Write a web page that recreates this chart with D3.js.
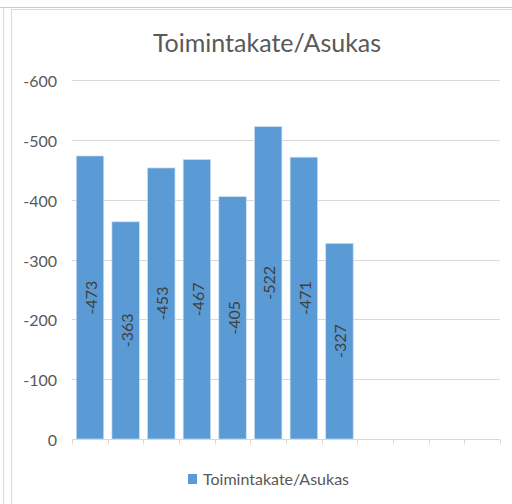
<!DOCTYPE html>
<html lang="fi">
<head>
<meta charset="UTF-8">
<script src="https://d3js.org/d3.v7.min.js"></script>
<title>Toimintakate/Asukas</title>
<style>
    body { margin: 0; background: #fff; }
    svg { display: block; font-family: Lato, "Open Sans", sans-serif; }
    .grid line { stroke: #d9d9d9; stroke-width: 1px; }
    .yaxis text { fill: #595959; font-size: 16px; }
    .label { fill: #404040; font-size: 16px; }
</style>
</head>
<body>
<script>
    // 12 category slots, only the first 8 have values
    const categories = ["1", "2", "3", "4", "5", "6", "7", "8", "9", "10", "11", "12"];
    const values = [-473, -363, -453, -467, -405, -522, -471, -327, null, null, null, null];
    const yTicks = [0, -100, -200, -300, -400, -500, -600];
    const seriesName = "Toimintakate/Asukas";

    const width = 512, height = 504;
    const plot = { left: 72, right: 500, top: 80, bottom: 439 };

    const svg = d3.select("body").append("svg")
        .attr("width", width)
        .attr("height", height);

    // chart frame
    svg.append("line").attr("x1", 0).attr("x2", width).attr("y1", 7.5).attr("y2", 7.5)
        .attr("stroke", "#c8c8c8");
    svg.append("line").attr("x1", 11.5).attr("x2", width).attr("y1", 9.5).attr("y2", 9.5)
        .attr("stroke", "#d9d9d9");
    svg.append("line").attr("x1", 3.5).attr("x2", 3.5).attr("y1", 7).attr("y2", height)
        .attr("stroke", "#d9d9d9");
    svg.append("line").attr("x1", 11.5).attr("x2", 11.5).attr("y1", 9).attr("y2", height)
        .attr("stroke", "#d9d9d9");

    const x = d3.scaleBand()
        .domain(categories)
        .range([plot.left, plot.right])
        .paddingInner(0.23)
        .paddingOuter(0.12);

    const y = d3.scaleLinear()
        .domain([0, -600])
        .range([plot.bottom, plot.top]);

    // gridlines
    svg.append("g").attr("class", "grid")
        .selectAll("line")
        .data(yTicks.filter(d => d !== 0))
        .enter().append("line")
        .attr("x1", plot.left).attr("x2", plot.right)
        .attr("y1", d => Math.round(y(d)) + 0.5)
        .attr("y2", d => Math.round(y(d)) + 0.5);

    // y labels
    svg.append("g").attr("class", "yaxis")
        .selectAll("text")
        .data(yTicks)
        .enter().append("text")
        .attr("x", 57)
        .attr("y", d => y(d) + 7)
        .attr("text-anchor", "end")
        .text(d => d);

    // bars
    const data = categories.map((c, i) => ({ c: c, v: values[i] })).filter(d => d.v !== null);

    svg.append("g")
        .selectAll("rect")
        .data(data)
        .enter().append("rect")
        .attr("x", d => x(d.c))
        .attr("y", d => y(d.v))
        .attr("width", x.bandwidth())
        .attr("height", d => y(0) - y(d.v))
        .attr("fill", "#5b9bd5")
        .attr("stroke", "#c9ddf0")
        .attr("stroke-width", 0.7);

    // category axis with tick marks
    const axisY = Math.round(y(0)) + 0.5;
    svg.append("line")
        .attr("x1", plot.left).attr("x2", plot.right)
        .attr("y1", axisY).attr("y2", axisY)
        .attr("stroke", "#d9d9d9");
    const tickPos = categories.map(c => x(c) - x.step() * x.paddingInner() / 2)
        .concat([plot.right]);
    svg.append("g")
        .selectAll("line")
        .data(tickPos)
        .enter().append("line")
        .attr("x1", d => Math.round(d) + 0.5).attr("x2", d => Math.round(d) + 0.5)
        .attr("y1", axisY).attr("y2", axisY + 5)
        .attr("stroke", "#d9d9d9");

    // value labels, rotated, centred in the bar
    svg.append("g")
        .selectAll("text")
        .data(data)
        .enter().append("text")
        .attr("class", "label")
        .attr("transform", d => {
            const cx = x(d.c) + x.bandwidth() / 2;
            const cy = (y(d.v) + y(0)) / 2;
            return `translate(${cx + 7},${cy}) rotate(-90)`;
        })
        .attr("text-anchor", "middle")
        .text(d => d.v);

    // title
    svg.append("text")
        .attr("x", 267)
        .attr("y", 52)
        .attr("text-anchor", "middle")
        .attr("fill", "#595959")
        .style("font-size", "25px")
        .text(seriesName);

    // legend
    const legend = svg.append("g").attr("transform", "translate(188,474)");
    legend.append("rect")
        .attr("width", 9).attr("height", 10)
        .attr("fill", "#5b9bd5");
    legend.append("text")
        .attr("x", 15).attr("y", 11)
        .attr("fill", "#595959")
        .style("font-size", "16px")
        .text(seriesName);
</script>
</body>
</html>
